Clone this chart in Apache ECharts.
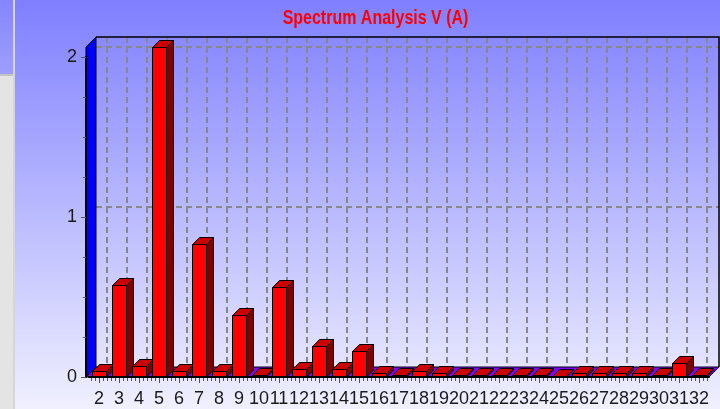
<!DOCTYPE html>
<html>
<head>
<meta charset="utf-8">
<title>Spectrum Analysis V (A)</title>
<script src="https://cdn.jsdelivr.net/npm/echarts@6/dist/echarts.min.js"></script>
<style>
  html, body { margin: 0; padding: 0; background: #fff; }
  #chart { width: 720px; height: 409px; }
</style>
</head>
<body>
<div id="chart"></div>
<script>
  // harmonic orders on the x axis
  var harmonics = ['2', '3', '4', '5', '6', '7', '8', '9', '10', '11', '12', '13', '14', '15', '16', '17',
    '18', '19', '20', '21', '22', '23', '24', '25', '26', '27', '28', '29', '30', '31', '32'];
  // amplitude per harmonic, V
  var amplitudes = [0.04, 0.578, 0.07, 2.06, 0.04, 0.83, 0.04, 0.39, 0.015, 0.565, 0.05, 0.195, 0.05, 0.16, 0.025, 0.01,
    0.04, 0.025, 0.015, 0.015, 0.015, 0.015, 0.015, 0.005, 0.025, 0.025, 0.025, 0.025, 0.015, 0.09, 0.015];
  var yGridValues = [1, 2];
  var wallTop = 2.0625;

  var DEPTH = 10;     // wall depth in px
  var BAR_DEPTH = 7;  // bar depth in px

  var chart = echarts.init(document.getElementById('chart'));

  function renderWalls(params, api) {
    var cs = params.coordSys;
    var x0 = cs.x, x1 = cs.x + cs.width;
    var yb = api.coord([0, 0])[1];
    var yt = api.coord([0, wallTop])[1];
    var xl = x0 - 3;
    var D = DEPTH;
    var children = [];

    // floor
    children.push({
      type: 'polygon',
      shape: { points: [[xl, yb], [x1, yb], [x1 + D, yb - D], [xl + D, yb - D]] },
      style: { fill: '#8000ff', stroke: '#000', lineWidth: 1 }
    });

    var dash = { stroke: '#888', lineWidth: 2, lineDash: [6, 4] };
    // horizontal grid on back wall
    yGridValues.forEach(function (v) {
      var y = Math.round(api.coord([0, v])[1] - D);
      children.push({ type: 'line', shape: { x1: xl + D, y1: y, x2: x1 + D, y2: y }, style: dash });
    });
    // vertical grid on back wall
    var band = api.size([1, 0])[0];
    for (var i = 0; i < harmonics.length; i++) {
      var cx = Math.round(api.coord([i, 0])[0] + 8);
      children.push({ type: 'line', shape: { x1: cx, y1: yt - D, x2: cx, y2: yb - D }, style: dash });
    }
    // back wall outline (top + right)
    children.push({
      type: 'polyline',
      shape: { points: [[xl + D, yt - D], [x1 + D, yt - D], [x1 + D, yb - D]] },
      style: { stroke: '#000', lineWidth: 1.5, fill: null }
    });
    // left blue wall
    children.push({
      type: 'polygon',
      shape: { points: [[xl, yb], [xl, yt], [xl + D, yt - D], [xl + D, yb - D]] },
      style: { fill: '#0000ff', stroke: '#000', lineWidth: 1 }
    });
    // x minor ticks below the baseline
    for (var j = 0; j < harmonics.length; j++) {
      var c = api.coord([j, 0])[0];
      for (var k = -2; k <= 2; k++) {
        var tx = Math.round(c + k * band / 5) + 0.5;
        children.push({
          type: 'line',
          shape: { x1: tx, y1: yb + 1, x2: tx, y2: yb + (k === 0 ? 6 : 4) },
          style: { stroke: '#555', lineWidth: 1 }
        });
      }
    }
    return { type: 'group', children: children };
  }

  function renderBar(params, api) {
    var top = api.coord([api.value(0), api.value(1)]);
    var base = api.coord([api.value(0), 0]);
    var w = api.size([1, 0])[0] * 0.7;
    var d = BAR_DEPTH;
    var x = Math.round(top[0] - w / 2) + 0.5;
    var ty = Math.round(top[1]) + 0.5;
    var by = base[1];
    return {
      type: 'group',
      children: [
        {
          type: 'polygon',
          shape: { points: [[x + w, ty], [x + w + d, ty - d], [x + w + d, by - d], [x + w, by]] },
          style: { fill: '#800000', stroke: '#000', lineWidth: 1 }
        },
        {
          type: 'polygon',
          shape: { points: [[x, ty], [x + d, ty - d], [x + w + d, ty - d], [x + w, ty]] },
          style: { fill: '#cc0000', stroke: '#000', lineWidth: 1 }
        },
        {
          type: 'rect',
          shape: { x: x, y: ty, width: w, height: by - ty },
          style: { fill: '#ff0000', stroke: '#000', lineWidth: 1 }
        }
      ]
    };
  }

  var barData = amplitudes.map(function (v, i) { return [i, v]; });

  chart.setOption({
    backgroundColor: {
      type: 'linear', x: 0, y: 0, x2: 0, y2: 1,
      colorStops: [{ offset: 0, color: '#7f7fff' }, { offset: 1, color: '#f0f0ff' }]
    },
    animation: false,
    graphic: [
      { type: 'rect', left: 0, top: 0, shape: { width: 14, height: 409 }, style: { fill: '#e4e4e4' } },
      {
        type: 'rect', left: 0, top: 0, shape: { width: 13, height: 74 },
        style: {
          fill: {
            type: 'linear', x: 0, y: 0, x2: 0, y2: 1,
            colorStops: [{ offset: 0, color: '#8585ff' }, { offset: 1, color: '#9e9eff' }]
          }
        }
      },
      { type: 'rect', left: 0, top: 74, shape: { width: 13, height: 2 }, style: { fill: '#c4c4c4' } },
      { type: 'rect', left: 13, top: 0, shape: { width: 2, height: 409 }, style: { fill: '#d6d6d6' } },
      // title, condensed like the original narrow bold face
      {
        type: 'text',
        x: 375.5,
        y: 19,
        scaleX: 0.82,
        style: {
          text: 'Spectrum Analysis V (A)',
          x: 0,
          y: 0,
          align: 'center',
          verticalAlign: 'middle',
          fill: '#ff0000',
          font: 'bold 19.5px "Liberation Sans", Arial, sans-serif'
        }
      }
    ],
    grid: { left: 89, right: 11, top: 57, bottom: 32 },
    xAxis: {
      type: 'category',
      data: harmonics,
      axisLine: { lineStyle: { color: '#000', width: 2 } },
      axisTick: { show: false },
      axisLabel: {
        color: '#1a1a1a',
        fontFamily: 'Liberation Sans, Arial, sans-serif',
        fontSize: 18,
        margin: 13,
        interval: 0
      },
      splitLine: { show: false },
      z: 5
    },
    yAxis: {
      type: 'value',
      min: 0,
      max: 2,
      interval: 1,
      offset: 3,
      axisLine: { show: true, lineStyle: { color: '#000', width: 2 } },
      axisTick: { show: true, length: 5, lineStyle: { color: '#555' } },
      minorTick: { show: true, splitNumber: 4, length: 3, lineStyle: { color: '#555' } },
      axisLabel: {
        color: '#1a1a1a',
        fontFamily: 'Liberation Sans, Arial, sans-serif',
        fontSize: 18,
        margin: 9
      },
      splitLine: { show: false },
      z: 5
    },
    series: [
      {
        type: 'custom',
        z: 1,
        silent: true,
        renderItem: renderWalls,
        data: [[0, 0]],
        encode: { x: 0, y: 1 }
      },
      {
        type: 'custom',
        name: 'V',
        z: 2,
        renderItem: renderBar,
        data: barData,
        encode: { x: 0, y: 1 }
      }
    ]
  });
</script>
</body>
</html>
